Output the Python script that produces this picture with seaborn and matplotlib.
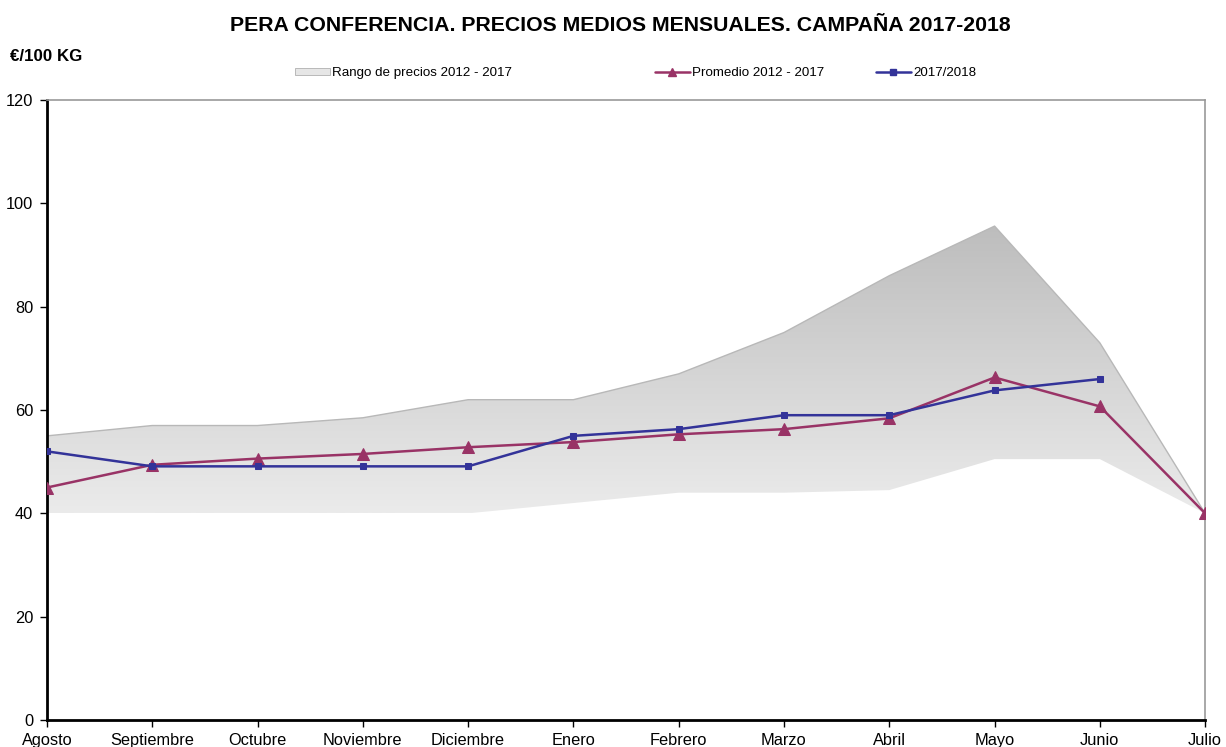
import numpy as np
import pandas as pd
import matplotlib
matplotlib.use("Agg")
import matplotlib.pyplot as plt
from matplotlib.colors import LinearSegmentedColormap
from matplotlib.patches import Patch
from matplotlib.lines import Line2D
import seaborn as sns

meses = ["Agosto", "Septiembre", "Octubre", "Noviembre", "Diciembre", "Enero",
         "Febrero", "Marzo", "Abril", "Mayo", "Junio", "Julio"]
rango_max = [55, 57, 57, 58.5, 62, 62, 67, 75, 86, 95.6, 73, 40]
rango_min = [40, 40, 40, 40, 40, 42, 44, 44, 44.5, 50.5, 50.5, 40]
promedio = [45, 49.4, 50.6, 51.5, 52.8, 53.8, 55.3, 56.3, 58.4, 66.3, 60.7, 40]
campana = [52, 49.1, 49.1, 49.1, 49.1, 55, 56.3, 59, 59, 63.8, 66]
yticks = [0, 20, 40, 60, 80, 100, 120]

sns.set_theme(style="white")
plt.rcParams['font.family'] = ['Liberation Sans', 'DejaVu Sans']
plt.rcParams['text.color'] = 'black'

fig = plt.figure(figsize=(12.26, 7.47), dpi=100)
ax = fig.add_axes([0.0383, 0.0361, 0.9447, 0.8300])

x = np.arange(len(meses))

# range band with vertical gradient
poly = ax.fill_between(x, rango_min, rango_max, facecolor="none", edgecolor="none")
cmap = LinearSegmentedColormap.from_list("g", ["#bdbdbd", "#ebebeb"])
grad = np.linspace(0, 1, 256).reshape(-1, 1)
im = ax.imshow(grad, cmap=cmap, aspect="auto",
               extent=[0, len(meses) - 1, min(rango_min), max(rango_max)],
               origin="upper", zorder=1)
path = poly.get_paths()[0]
im.set_clip_path(path, transform=ax.transData)
ax.plot(x, rango_max, color="#b8b8b8", lw=1.0, zorder=2)

df_p = pd.DataFrame({"x": x, "y": promedio})
df_c = pd.DataFrame({"x": x[:len(campana)], "y": campana})
sns.lineplot(data=df_p, x="x", y="y", ax=ax, color="#993366", lw=1.8,
             marker="^", markersize=8, markeredgecolor="#993366", zorder=4)
sns.lineplot(data=df_c, x="x", y="y", ax=ax, color="#333399", lw=1.8,
             marker="s", markersize=5, markeredgecolor="#333399", zorder=5)

ax.set_xlim(0, len(meses) - 1)
ax.set_ylim(0, 120)
ax.set_xticks(x)
ax.set_xticklabels(meses, fontsize=11.8, color="black")
ax.set_yticks(yticks)
ax.set_yticklabels([str(v) for v in yticks], fontsize=11.8, color="black")
ax.set_xlabel("")
ax.set_ylabel("")
ax.tick_params(axis="x", direction="out", length=5, width=1, color="black",
               bottom=True, pad=4)
ax.tick_params(axis="y", direction="out", length=5, width=1, color="black",
               left=True, pad=5)

for s in ["left", "bottom"]:
    ax.spines[s].set_color("black")
    ax.spines[s].set_linewidth(2)
for s in ["top", "right"]:
    ax.spines[s].set_color("#999999")
    ax.spines[s].set_linewidth(1.2)

fig.text(0.506, 0.966, "PERA CONFERENCIA. PRECIOS MEDIOS MENSUALES. CAMPAÑA 2017-2018",
         ha="center", va="center", fontsize=15.3, fontweight="bold", color="black")
fig.text(0.008, 0.924, "€/100 KG", ha="left", va="center", fontsize=12.2,
         fontweight="bold", color="black")

h1 = Patch(facecolor="#e6e6e6", edgecolor="#b0b0b0", lw=0.6)
h2 = Line2D([], [], color="#993366", lw=1.8, marker="^", markersize=6)
h3 = Line2D([], [], color="#333399", lw=1.8, marker="s", markersize=4)
specs = [(h1, "Rango de precios 2012 - 2017", 295), (h2, "Promedio 2012 - 2017", 655),
         (h3, "2017/2018", 876)]
for h, lab, px in specs:
    fig.legend([h], [lab], loc="center left", bbox_to_anchor=(px / 1226, 1 - 73 / 747),
               frameon=False, fontsize=9.6, borderpad=0, borderaxespad=0,
               handlelength=2.6, handletextpad=0.2, handleheight=0.45,
               labelcolor="black")

fig.savefig("out.png", dpi=100)
